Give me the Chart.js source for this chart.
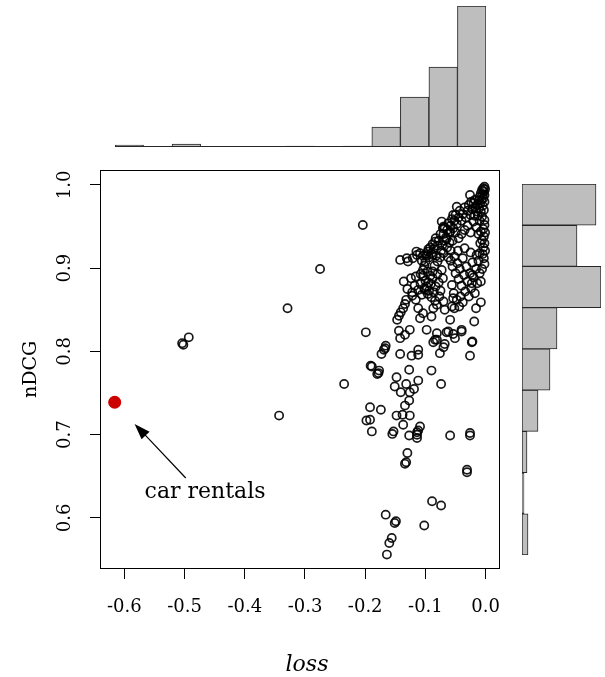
<!DOCTYPE html>
<html>
<head>
<meta charset="utf-8">
<script src="https://cdn.jsdelivr.net/npm/chart.js@4.4.1/dist/chart.umd.min.js"></script>
<style>
    html, body { margin: 0; padding: 0; background: #fff; }
    body { width: 605px; height: 677px; position: relative; overflow: hidden; }
    canvas { position: absolute; }
    #main { left: 0; top: 160px; }
    #topHist { left: 110px; top: 0; }
    #sideHist { left: 517px; top: 179px; }
</style>
</head>
<body>
<canvas id="main" width="510" height="517"></canvas>
<canvas id="topHist" width="381" height="152"></canvas>
<canvas id="sideHist" width="88" height="381"></canvas>
<script>
// histogram of loss (top margin)
const lossBins = ['-0.65', '-0.60', '-0.55', '-0.50', '-0.45', '-0.40', '-0.35', '-0.30', '-0.25', '-0.20', '-0.15', '-0.10', '-0.05'];
const lossCounts = [2, 0, 3, 0, 0, 0, 1, 0, 1, 20, 50, 80, 141];

// histogram of nDCG (right margin), bottom bin first
const ndcgBins = ['0.55', '0.60', '0.65', '0.70', '0.75', '0.80', '0.85', '0.90', '0.95'];
const ndcgCounts = [6, 2, 5, 16, 28, 35, 79, 55, 74];

// axis ticks
const lossTicks = [-0.6, -0.5, -0.4, -0.3, -0.2, -0.1, 0.0];
const lossTickLabels = ['-0.6', '-0.5', '-0.4', '-0.3', '-0.2', '-0.1', '0.0'];
const ndcgTicks = [0.6, 0.7, 0.8, 0.9, 1.0];
const ndcgTickLabels = ['0.6', '0.7', '0.8', '0.9', '1.0'];

// highlighted query
const highlightLoss = [-0.616];
const highlightNdcg = [0.739];
const highlightLabel = 'car rentals';

// [loss, nDCG] of every other query
const queryPoints = [
    [-0.204, 0.952], [-0.275, 0.899], [-0.329, 0.852], [-0.493, 0.817], [-0.502, 0.808], [-0.504, 0.810],
    [-0.343, 0.723], [-0.235, 0.761], [-0.199, 0.823], [-0.189, 0.782], [-0.180, 0.773], [-0.177, 0.777],
    [-0.169, 0.802], [-0.166, 0.807], [-0.192, 0.733], [-0.174, 0.730], [-0.198, 0.717], [-0.192, 0.718],
    [-0.189, 0.704],
    [-0.155, 0.701], [-0.127, 0.699], [-0.114, 0.700], [-0.114, 0.703], [-0.114, 0.696], [-0.059, 0.699],
    [-0.026, 0.702], [-0.026, 0.699], [-0.130, 0.678], [-0.134, 0.665], [-0.132, 0.667], [-0.031, 0.655],
    [-0.031, 0.658], [-0.089, 0.620], [-0.074, 0.615], [-0.166, 0.604], [-0.151, 0.594], [-0.149, 0.596],
    [-0.102, 0.591], [-0.156, 0.576], [-0.160, 0.570], [-0.164, 0.556],
    [-0.144, 0.825], [-0.098, 0.826], [-0.081, 0.822], [-0.065, 0.823], [-0.051, 0.816], [-0.040, 0.824],
    [-0.022, 0.812], [-0.026, 0.795], [-0.087, 0.811], [-0.084, 0.814], [-0.070, 0.805], [-0.076, 0.798],
    [-0.167, 0.804], [-0.173, 0.797], [-0.142, 0.797], [-0.123, 0.795], [-0.112, 0.802], [-0.112, 0.796],
    [-0.191, 0.783], [-0.178, 0.774], [-0.127, 0.778], [-0.090, 0.777], [-0.148, 0.769], [-0.151, 0.758],
    [-0.132, 0.761], [-0.112, 0.765], [-0.141, 0.751], [-0.126, 0.751], [-0.119, 0.755], [-0.074, 0.761],
    [-0.127, 0.741], [-0.134, 0.735], [-0.148, 0.723], [-0.138, 0.724], [-0.126, 0.723], [-0.137, 0.712],
    [-0.153, 0.704], [-0.109, 0.710], [-0.112, 0.705],
    [-0.022, 0.892], [-0.023, 0.882], [-0.019, 0.836], [-0.023, 0.811], [-0.040, 0.826], [-0.054, 0.821],
    [-0.062, 0.824], [-0.081, 0.814], [-0.068, 0.809], [-0.112, 0.852], [-0.104, 0.846], [-0.109, 0.840],
    [-0.087, 0.852], [-0.090, 0.842], [-0.081, 0.856], [-0.070, 0.860], [-0.068, 0.850], [-0.056, 0.854],
    [-0.054, 0.864], [-0.059, 0.838],
    [-0.147, 0.838], [-0.144, 0.843], [-0.141, 0.847], [-0.137, 0.852], [-0.134, 0.857], [-0.132, 0.862],
    [-0.142, 0.816], [-0.134, 0.820], [-0.126, 0.826], [-0.122, 0.867], [-0.116, 0.862], [-0.106, 0.868],
    [-0.101, 0.874],
    [-0.129, 0.908], [-0.121, 0.912], [-0.114, 0.916], [-0.109, 0.918], [-0.104, 0.915], [-0.099, 0.917],
    [-0.136, 0.884], [-0.124, 0.888], [-0.116, 0.890], [-0.112, 0.874], [-0.142, 0.910], [-0.131, 0.912],
    [-0.098, 0.915], [-0.088, 0.916],
    [-0.073, 0.956], [-0.070, 0.950], [-0.048, 0.974], [-0.054, 0.964], [-0.026, 0.988], [-0.059, 0.944],
    [-0.065, 0.935], [-0.084, 0.932], [-0.095, 0.923], [-0.115, 0.920],
    [-0.002, 0.998], [-0.001, 0.995], [-0.004, 0.996], [-0.003, 0.992], [-0.006, 0.994], [-0.002, 0.988],
    [-0.005, 0.989], [-0.008, 0.990], [-0.010, 0.986], [-0.004, 0.984], [-0.007, 0.982], [-0.012, 0.981],
    [-0.002, 0.980], [-0.009, 0.978], [-0.014, 0.976], [-0.005, 0.975], [-0.011, 0.972], [-0.017, 0.974],
    [-0.003, 0.970], [-0.008, 0.968], [-0.015, 0.968], [-0.020, 0.978], [-0.022, 0.971], [-0.018, 0.982],
    [-0.024, 0.980], [-0.013, 0.963], [-0.006, 0.962], [-0.002, 0.958], [-0.010, 0.957],
    [-0.002, 0.952], [-0.004, 0.947], [-0.001, 0.943], [-0.003, 0.938], [-0.006, 0.934], [-0.002, 0.930],
    [-0.004, 0.925], [-0.001, 0.921], [-0.005, 0.917], [-0.003, 0.912], [-0.002, 0.905], [-0.006, 0.899],
    [-0.008, 0.944], [-0.009, 0.930], [-0.010, 0.918],
    [-0.028, 0.976], [-0.030, 0.969], [-0.025, 0.964], [-0.033, 0.961], [-0.035, 0.973], [-0.038, 0.965],
    [-0.040, 0.957], [-0.043, 0.969], [-0.045, 0.961], [-0.048, 0.953], [-0.050, 0.964], [-0.052, 0.957],
    [-0.054, 0.948], [-0.056, 0.959], [-0.058, 0.951], [-0.060, 0.943], [-0.062, 0.954], [-0.064, 0.946],
    [-0.066, 0.937], [-0.068, 0.949], [-0.071, 0.948], [-0.070, 0.941], [-0.030, 0.951], [-0.035, 0.946],
    [-0.020, 0.956], [-0.018, 0.963], [-0.040, 0.941], [-0.045, 0.936], [-0.025, 0.943], [-0.015, 0.949],
    [-0.012, 0.941], [-0.050, 0.943], [-0.055, 0.933],
    [-0.075, 0.941], [-0.078, 0.933], [-0.080, 0.927], [-0.083, 0.936], [-0.086, 0.923], [-0.088, 0.929],
    [-0.090, 0.918], [-0.092, 0.925], [-0.094, 0.913], [-0.096, 0.920], [-0.100, 0.908], [-0.102, 0.903],
    [-0.104, 0.898], [-0.106, 0.909], [-0.108, 0.893], [-0.072, 0.928], [-0.074, 0.921], [-0.076, 0.913],
    [-0.068, 0.933], [-0.064, 0.925], [-0.080, 0.908], [-0.085, 0.903], [-0.088, 0.896], [-0.092, 0.891],
    [-0.095, 0.883], [-0.098, 0.878], [-0.082, 0.915], [-0.070, 0.918], [-0.060, 0.931], [-0.058, 0.921],
    [-0.062, 0.913],
    [-0.118, 0.879], [-0.108, 0.881], [-0.122, 0.871], [-0.130, 0.875],
    [-0.104, 0.891], [-0.100, 0.885], [-0.097, 0.896], [-0.094, 0.873], [-0.091, 0.881], [-0.088, 0.888],
    [-0.086, 0.871], [-0.083, 0.878], [-0.080, 0.893], [-0.078, 0.883], [-0.075, 0.873], [-0.073, 0.898],
    [-0.071, 0.888], [-0.090, 0.865], [-0.096, 0.869], [-0.084, 0.861], [-0.102, 0.876], [-0.077, 0.866],
    [-0.058, 0.909], [-0.055, 0.902], [-0.052, 0.914], [-0.050, 0.894], [-0.047, 0.906], [-0.045, 0.887],
    [-0.043, 0.899], [-0.040, 0.879], [-0.038, 0.912], [-0.036, 0.892], [-0.034, 0.872], [-0.032, 0.902],
    [-0.030, 0.884], [-0.028, 0.866], [-0.026, 0.894], [-0.024, 0.876], [-0.022, 0.907], [-0.020, 0.889],
    [-0.018, 0.870], [-0.016, 0.899], [-0.014, 0.882], [-0.056, 0.880], [-0.053, 0.870], [-0.048, 0.862],
    [-0.044, 0.854], [-0.042, 0.866], [-0.038, 0.859], [-0.052, 0.852], [-0.046, 0.921], [-0.035, 0.924],
    [-0.025, 0.919], [-0.015, 0.916], [-0.012, 0.909], [-0.010, 0.894], [-0.008, 0.884], [-0.008, 0.859],
    [-0.016, 0.852],
];

// annotation anchors, in data units
const arrowTip = { x: -0.583, y: 0.713 };
const arrowTail = { x: -0.498, y: 0.648 };
const labelAt = { x: -0.466, y: 0.624 };

const serif = '"DejaVu Serif", serif';
Chart.defaults.font.family = serif;
Chart.defaults.animation = false;
Chart.defaults.plugins.legend.display = false;
Chart.defaults.plugins.tooltip.enabled = false;

const histFill = '#bebebe';
const histEdge = '#262626';

const mainDecor = {
    id: 'mainDecor',
    afterDraw(chart) {
        const { ctx, chartArea: ca, scales } = chart;
        const xs = scales.x;
        const ys = scales.y;
        ctx.save();
        ctx.strokeStyle = '#000';
        ctx.lineWidth = 1;
        ctx.strokeRect(ca.left + 0.5, ca.top + 0.5, ca.width - 1, ca.height - 1);

        ctx.fillStyle = '#000';
        ctx.font = '18px ' + serif;
        ctx.textAlign = 'center';
        ctx.textBaseline = 'alphabetic';
        lossTicks.forEach((v, i) => {
            ctx.fillText(lossTickLabels[i], xs.getPixelForValue(v), ca.bottom + 43);
        });
        ndcgTicks.forEach((v, i) => {
            ctx.save();
            ctx.translate(ca.left - 30, ys.getPixelForValue(v));
            ctx.rotate(-Math.PI / 2);
            ctx.fillText(ndcgTickLabels[i], 0, 0);
            ctx.restore();
        });

        ctx.save();
        ctx.font = '19px ' + serif;
        ctx.translate(36, (ca.top + ca.bottom) / 2);
        ctx.rotate(-Math.PI / 2);
        ctx.fillText('nDCG', 0, 0);
        ctx.restore();

        ctx.font = 'italic 22px ' + serif;
        ctx.fillText('loss', (ca.left + ca.right) / 2 + 7, ca.bottom + 102);

        // arrow pointing at the highlighted query
        const tx = xs.getPixelForValue(arrowTip.x);
        const ty = ys.getPixelForValue(arrowTip.y);
        const sx = xs.getPixelForValue(arrowTail.x);
        const sy = ys.getPixelForValue(arrowTail.y);
        const ang = Math.atan2(ty - sy, tx - sx);
        const headLen = 16;
        const headHalf = 5.5;
        ctx.beginPath();
        ctx.moveTo(sx, sy);
        ctx.lineTo(tx - Math.cos(ang) * headLen * 0.8, ty - Math.sin(ang) * headLen * 0.8);
        ctx.lineWidth = 1.2;
        ctx.stroke();
        ctx.beginPath();
        ctx.moveTo(tx, ty);
        ctx.lineTo(tx - Math.cos(ang) * headLen - Math.sin(ang) * headHalf, ty - Math.sin(ang) * headLen + Math.cos(ang) * headHalf);
        ctx.lineTo(tx - Math.cos(ang) * headLen + Math.sin(ang) * headHalf, ty - Math.sin(ang) * headLen - Math.cos(ang) * headHalf);
        ctx.closePath();
        ctx.fill();

        ctx.font = '22px ' + serif;
        ctx.fillText(highlightLabel, xs.getPixelForValue(labelAt.x), ys.getPixelForValue(labelAt.y));
        ctx.restore();
    },
};

const baseLine = {
    id: 'baseLine',
    afterDatasetsDraw(chart) {
        const { ctx, chartArea: ca, scales } = chart;
        const y0 = Math.round(scales.y.getPixelForValue(0)) - 0.5;
        ctx.save();
        ctx.strokeStyle = histEdge;
        ctx.lineWidth = 1;
        ctx.beginPath();
        ctx.moveTo(ca.left, y0);
        ctx.lineTo(ca.right, y0);
        ctx.stroke();
        ctx.restore();
    },
};

const chartMain = new Chart(document.getElementById('main'), {
    type: 'scatter',
    data: {
        datasets: [
            {
                label: 'queries',
                data: queryPoints.map(p => ({ x: p[0], y: p[1] })),
                pointRadius: 4.1,
                borderWidth: 1.7,
                borderColor: 'rgba(0, 0, 0, 0.9)',
                backgroundColor: 'rgba(0, 0, 0, 0)',
            },
            {
                label: highlightLabel,
                data: highlightLoss.map((v, i) => ({ x: v, y: highlightNdcg[i] })),
                pointRadius: 6.5,
                borderWidth: 0,
                backgroundColor: '#cd0000',
            },
        ],
    },
    options: {
        responsive: false,
        layout: { padding: { top: 10, right: 10, left: 0, bottom: 0 } },
        scales: {
            x: {
                type: 'linear',
                min: -0.6404,
                max: 0.0238,
                afterBuildTicks: (s) => { s.ticks = lossTicks.map(v => ({ value: v })); },
                afterFit: (s) => { s.height = 108; },
                grid: { drawOnChartArea: false, drawTicks: true, tickLength: 10, color: '#000', lineWidth: 1 },
                border: { display: false },
                ticks: { display: false },
            },
            y: {
                type: 'linear',
                min: 0.5387,
                max: 1.018,
                afterBuildTicks: (s) => { s.ticks = ndcgTicks.map(v => ({ value: v })); },
                afterFit: (s) => { s.width = 100; },
                grid: { drawOnChartArea: false, drawTicks: true, tickLength: 10, color: '#000', lineWidth: 1 },
                border: { display: false },
                ticks: { display: false },
            },
        },
    },
    plugins: [mainDecor],
});

const chartTop = new Chart(document.getElementById('topHist'), {
    type: 'bar',
    data: {
        labels: lossBins,
        datasets: [
            {
                label: 'loss',
                data: lossCounts,
                backgroundColor: histFill,
                borderColor: histEdge,
                borderWidth: 1,
                borderSkipped: false,
                categoryPercentage: 1,
                barPercentage: 1,
            },
        ],
    },
    options: {
        responsive: false,
        layout: { padding: { top: 6, right: 5, left: 5, bottom: 5 } },
        scales: {
            x: { display: false },
            y: { display: false, min: 0, max: 141 },
        },
    },
    plugins: [baseLine],
});

const chartSide = new Chart(document.getElementById('sideHist'), {
    type: 'bar',
    data: {
        labels: ndcgBins,
        datasets: [
            {
                label: 'nDCG',
                data: ndcgCounts,
                backgroundColor: histFill,
                borderColor: histEdge,
                borderWidth: 1,
                borderSkipped: false,
                categoryPercentage: 1,
                barPercentage: 1,
            },
        ],
    },
    options: {
        responsive: false,
        indexAxis: 'y',
        layout: { padding: { top: 5, right: 4, left: 5, bottom: 5 } },
        scales: {
            x: { display: false, min: 0, max: 79 },
            y: { display: false, reverse: true },
        },
    },
});
</script>
</body>
</html>
